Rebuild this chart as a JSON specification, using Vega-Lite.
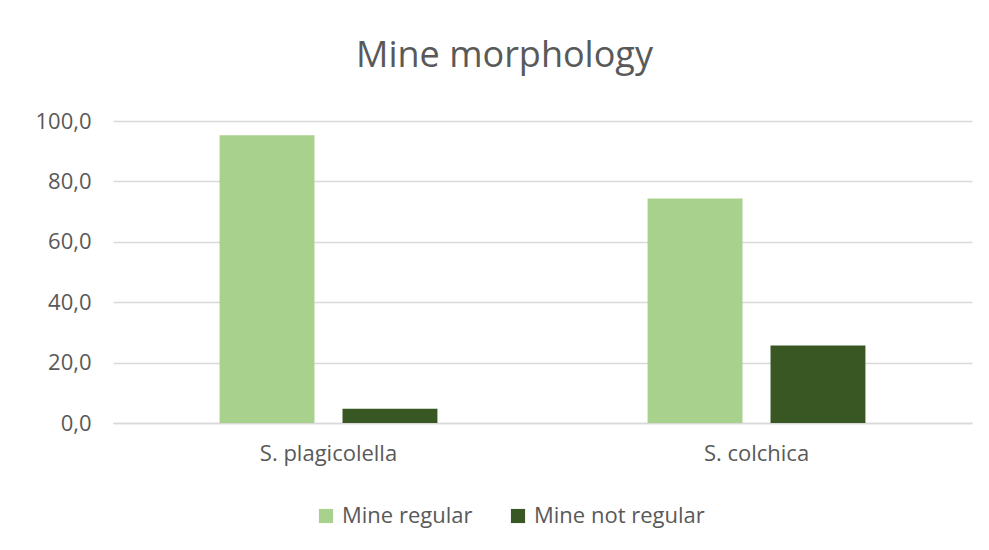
{
  "$schema": "https://vega.github.io/schema/vega-lite/v6.json",
  "width": 859,
  "height": 302,
  "autosize": {"type": "none"},
  "padding": {"left": 113, "top": 121, "right": 17, "bottom": 127},
  "background": "white",
  "title": {
    "text": "Mine morphology",
    "font": "Open Sans",
    "fontSize": 36,
    "fontWeight": "normal",
    "color": "#595959",
    "anchor": "middle",
    "frame": "group",
    "baseline": "alphabetic",
    "offset": 7,
    "dx": -38
  },
  "data": {
    "values": [
      {"species": "S. plagicolella", "type": "Mine regular", "value": 95.3},
      {"species": "S. plagicolella", "type": "Mine not regular", "value": 4.7},
      {"species": "S. colchica", "type": "Mine regular", "value": 74.3},
      {"species": "S. colchica", "type": "Mine not regular", "value": 25.7}
    ]
  },
  "mark": {"type": "bar"},
  "encoding": {
    "x": {
      "field": "species",
      "type": "nominal",
      "sort": ["S. plagicolella", "S. colchica"],
      "scale": {"paddingInner": 0.491, "paddingOuter": 0.249},
      "axis": {
        "title": null,
        "labelAngle": 0,
        "ticks": false,
        "labelPadding": 20,
        "labelFont": "Open Sans",
        "labelFontSize": 22,
        "labelColor": "#595959",
        "domainColor": "#d9d9d9",
        "domainWidth": 1.5
      }
    },
    "xOffset": {
      "field": "type",
      "type": "nominal",
      "sort": ["Mine regular", "Mine not regular"],
      "scale": {"paddingInner": 0.228, "paddingOuter": 0}
    },
    "y": {
      "field": "value",
      "type": "quantitative",
      "scale": {"domain": [0, 100], "nice": false},
      "axis": {
        "title": null,
        "values": [0, 20, 40, 60, 80, 100],
        "labelExpr": "replace(format(datum.value, '.1f'), '.', ',')",
        "ticks": false,
        "domain": false,
        "labelPadding": 22,
        "labelFont": "Open Sans",
        "labelFontSize": 22,
        "labelColor": "#595959",
        "gridColor": "#d9d9d9",
        "gridWidth": 1.5
      }
    },
    "color": {
      "field": "type",
      "type": "nominal",
      "sort": ["Mine regular", "Mine not regular"],
      "scale": {"domain": ["Mine regular", "Mine not regular"], "range": ["#a9d18e", "#385723"]},
      "legend": {
        "title": null,
        "orient": "none",
        "direction": "horizontal",
        "legendX": 202,
        "legendY": 384,
        "symbolType": "square",
        "symbolSize": 200,
        "symbolStrokeWidth": 0,
        "labelFont": "Open Sans",
        "labelFontSize": 22,
        "labelColor": "#595959",
        "labelOffset": 5,
        "labelLimit": 400,
        "columnPadding": 34
      }
    }
  },
  "config": {"view": {"stroke": null}}
}
